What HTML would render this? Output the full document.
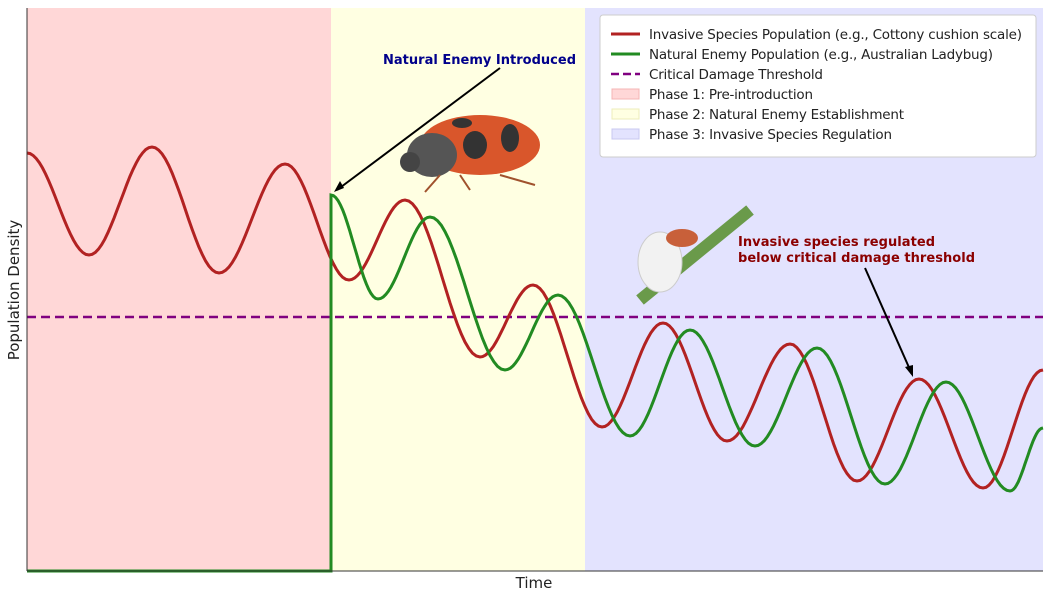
<!DOCTYPE html>
<html><head><meta charset="utf-8"><style>
body{margin:0;background:#fff;font-family:"DejaVu Sans","Liberation Sans",sans-serif;}
</style></head><body>
<svg id="s" width="1050" height="600" xmlns="http://www.w3.org/2000/svg" font-family="DejaVu Sans, Liberation Sans, sans-serif">
<rect x="27" y="8" width="304" height="563" fill="#ffd7d7"/>
<rect x="331" y="8" width="254" height="563" fill="#ffffe2"/>
<rect x="585" y="8" width="458" height="563" fill="#e3e3fe"/>
<line x1="27" y1="317" x2="1043" y2="317" stroke="#800080" stroke-width="2.5" stroke-dasharray="9,5"/>
<path id="red" fill="none" stroke="#b22222" stroke-width="3"/>
<path id="green" fill="none" stroke="#228b22" stroke-width="3"/>
<line x1="27" y1="8" x2="27" y2="571" stroke="#333" stroke-width="1"/>
<line x1="27" y1="571" x2="1043" y2="571" stroke="#333" stroke-width="1"/>
<g>
<ellipse cx="480" cy="145" rx="60" ry="30" fill="#d9562b"/>
<ellipse cx="432" cy="155" rx="25" ry="22" fill="#555"/>
<ellipse cx="410" cy="162" rx="10" ry="10" fill="#444"/>
<ellipse cx="475" cy="145" rx="12" ry="14" fill="#333"/>
<ellipse cx="510" cy="138" rx="9" ry="14" fill="#333"/>
<ellipse cx="462" cy="123" rx="10" ry="5" fill="#333"/>
<path d="M440 175 L425 192 M460 175 L470 190 M500 175 L535 185" stroke="#a0522d" stroke-width="2"/>
</g>
<g>
<line x1="640" y1="300" x2="750" y2="210" stroke="#6a9a4a" stroke-width="12"/>
<ellipse cx="660" cy="262" rx="22" ry="30" fill="#f2f2f2" stroke="#ccc"/>
<ellipse cx="682" cy="238" rx="16" ry="9" fill="#c8603a"/>
</g>
<line x1="500" y1="68" x2="337" y2="190" stroke="#000" stroke-width="2"/>
<path d="M334 192 L340 181 L344 188 Z" fill="#000"/>
<text x="383" y="64" font-size="13" font-weight="bold" fill="#00008b" textLength="193">Natural Enemy Introduced</text>
<text x="738" y="246" font-size="13" font-weight="bold" fill="#8b0000" textLength="197">Invasive species regulated</text>
<text x="738" y="262" font-size="13" font-weight="bold" fill="#8b0000" textLength="237">below critical damage threshold</text>
<line x1="865" y1="268" x2="911" y2="372" stroke="#000" stroke-width="2"/>
<path d="M913 377 L905 367 L913 365 Z" fill="#000"/>
<rect x="600" y="15" width="436" height="142" fill="#fff" stroke="#ccc" rx="3"/>
<g font-size="13.5" fill="#222">
<line x1="611" y1="34" x2="640" y2="34" stroke="#b22222" stroke-width="3"/><text x="649" y="39" textLength="373">Invasive Species Population (e.g., Cottony cushion scale)</text>
<line x1="611" y1="54" x2="640" y2="54" stroke="#228b22" stroke-width="3"/><text x="649" y="59" textLength="344">Natural Enemy Population (e.g., Australian Ladybug)</text>
<line x1="611" y1="74" x2="640" y2="74" stroke="#800080" stroke-width="2.5" stroke-dasharray="8,4"/><text x="649" y="79" textLength="174">Critical Damage Threshold</text>
<rect x="612" y="89" width="27" height="10" fill="#ffd7d7" stroke="#f4b4b4"/><text x="649" y="99" textLength="164">Phase 1: Pre-introduction</text>
<rect x="612" y="109" width="27" height="10" fill="#ffffe2" stroke="#eeeebb"/><text x="649" y="119" textLength="255">Phase 2: Natural Enemy Establishment</text>
<rect x="612" y="129" width="27" height="10" fill="#e3e3fe" stroke="#c8c8f0"/><text x="649" y="139" textLength="243">Phase 3: Invasive Species Regulation</text>
</g>
<text x="534" y="588" font-size="15" text-anchor="middle" fill="#222">Time</text>
<text transform="translate(19,290) rotate(-90)" font-size="15" text-anchor="middle" fill="#222">Population Density</text>
</svg>
<script>
function build(pts){
 let d="M"+pts[0][0]+" "+pts[0][1];
 for(let i=0;i<pts.length-1;i++){
  const [x0,y0]=pts[i],[x1,y1]=pts[i+1];
  for(let k=1;k<=20;k++){const t=k/20;const x=x0+(x1-x0)*t;const y=y0+(y1-y0)*(1-Math.cos(Math.PI*t))/2;d+=" L"+x.toFixed(1)+" "+y.toFixed(1);}
 }
 return d;
}
const red=[[27,153],[89,255],[152,147],[219,273],[285,164],[349,280],[405,200],[480,357],[533,285],[602,427],[663,323],[727,441],[790,344],[857,481],[919,379],[983,488],[1043,370]];
const green=[[331,195],[378,299],[430,217],[505,370],[558,295],[630,436],[690,330],[755,446],[817,348],[885,484],[946,382],[1010,491],[1043,428]];
document.getElementById("red").setAttribute("d",build(red));
document.getElementById("green").setAttribute("d","M27 571 L331 571 L331 195 "+build(green).slice(1).replace(/^[^L]*/,""));
</script>
</body></html>
